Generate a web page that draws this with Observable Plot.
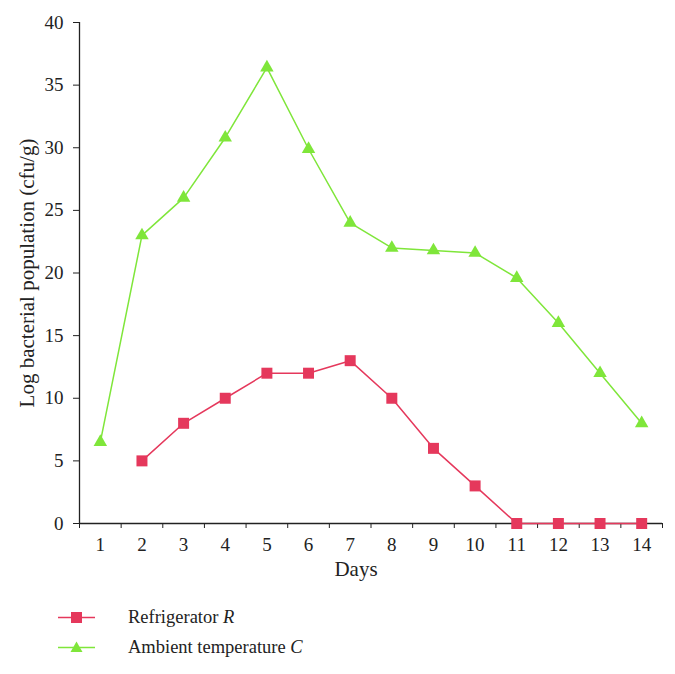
<!DOCTYPE html>
<html>
<head>
<meta charset="utf-8">
<script src="https://cdn.jsdelivr.net/npm/d3@7"></script>
<script src="https://cdn.jsdelivr.net/npm/@observablehq/plot@0.6"></script>
<style>
  html, body { margin: 0; padding: 0; background: #fff; }
  body { width: 675px; font-family: "Liberation Serif", "DejaVu Serif", serif; }
  #legend { margin-top: 6px; padding-left: 58px; font-size: 18.5px; color: #222; }
  .row { height: 30px; display: flex; align-items: center; }
  .row svg { margin-right: 33px; }
</style>
</head>
<body>
<div id="chart"></div>
<div id="legend"></div>
<script>
const days = [1, 2, 3, 4, 5, 6, 7, 8, 9, 10, 11, 12, 13, 14];
const refrigeratorDays = [2, 3, 4, 5, 6, 7, 8, 9, 10, 11, 12, 13, 14];
const refrigerator = [5, 8, 10, 12, 12, 13, 10, 6, 3, 0, 0, 0, 0];
const ambient = [6.5, 23, 26, 30.8, 36.4, 29.9, 24, 22, 21.8, 21.6, 19.6, 16, 12, 8];
const yTicks = [0, 5, 10, 15, 20, 25, 30, 35, 40];
const seriesNames = ["Refrigerator", "Ambient temperature"];
const seriesLetters = ["R", "C"];
const colors = ["#e5385c", "#7fe63a"];

const refData = refrigeratorDays.map((d, i) => ({day: d, value: refrigerator[i]}));
const ambData = days.map((d, i) => ({day: d, value: ambient[i]}));
const boundaries = d3.range(0.5, 15, 1);

const chart = Plot.plot({
  width: 675,
  height: 596,
  marginLeft: 79,
  marginRight: 13,
  marginTop: 22,
  marginBottom: 73,
  style: {fontFamily: "'Liberation Serif', 'DejaVu Serif', serif", fontSize: "19px", color: "#222"},
  x: {type: "linear", domain: [0.5, 14.5]},
  y: {domain: [0, 40]},
  marks: [
    Plot.axisY({ticks: yTicks, tickSize: 6, tickPadding: 10, label: null, fontSize: 19}),
    Plot.axisX({ticks: boundaries, tickSize: 5, tickFormat: () => "", label: null}),
    Plot.axisX({ticks: days, tickSize: 0, tickPadding: 14, tickFormat: d => String(d), label: null, fontSize: 19}),
    Plot.ruleY([0], {stroke: "#222", strokeWidth: 1.3}),
    Plot.ruleX([0.5], {stroke: "#222", strokeWidth: 1.3}),
    Plot.text(["Log bacterial population (cfu/g)"], {frameAnchor: "left", textAnchor: "middle", rotate: -90, dx: -52, dy: 0, fontSize: 21, fill: "#222"}),
    Plot.text(["Days"], {frameAnchor: "bottom", dx: -15, dy: 52, fontSize: 21, fill: "#222"}),
    Plot.line(ambData, {x: "day", y: "value", stroke: colors[1], strokeWidth: 1.5}),
    Plot.dot(ambData, {x: "day", y: "value", symbol: "triangle", r: 5, fill: colors[1], stroke: "none"}),
    Plot.line(refData, {x: "day", y: "value", stroke: colors[0], strokeWidth: 1.5}),
    Plot.dot(refData, {x: "day", y: "value", symbol: "square", r: 6.2, fill: colors[0], stroke: "none"})
  ]
});
document.getElementById("chart").appendChild(chart);

const legend = document.getElementById("legend");
const shapes = [
  '<rect x="13" y="5" width="11" height="11" fill="COLOR"/>',
  '<path d="M18.5 4.5 L24.5 15 L12.5 15 Z" fill="COLOR"/>'
];
seriesNames.forEach((name, i) => {
  const row = document.createElement("div");
  row.className = "row";
  row.innerHTML = `<svg width="37" height="20"><line x1="0" x2="37" y1="10.5" y2="10.5" stroke="${colors[i]}" stroke-width="1.5"/>${shapes[i].replace("COLOR", colors[i])}</svg><span>${name} <i>${seriesLetters[i]}</i></span>`;
  legend.appendChild(row);
});
</script>
</body>
</html>
